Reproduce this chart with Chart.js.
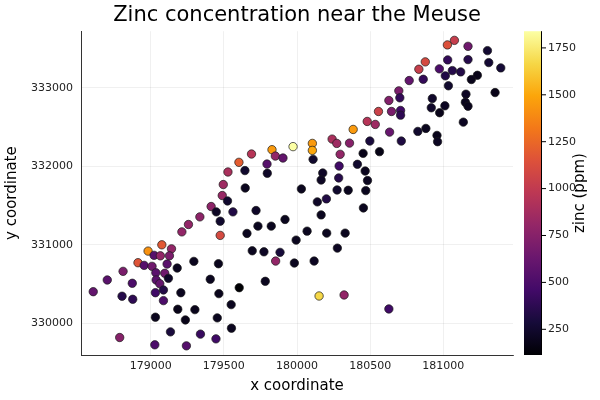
<!DOCTYPE html>
<html>
<head>
<meta charset="utf-8">
<title>Zinc concentration near the Meuse</title>
<script src="https://cdn.jsdelivr.net/npm/chart.js@4.4.1/dist/chart.umd.min.js"></script>
<style>
  body { margin: 0; background: #fff; }
</style>
</head>
<body>
<canvas id="zincChart" width="600" height="400"></canvas>
<script>
// sample locations and zinc in ppm
const xCoord = [
  179213, 179475, 179076, 179142, 178982, 179023, 179066, 179128, 178913, 178955,
  179009, 179112, 179295, 179463, 178811, 179035, 179096, 179181, 178703, 178874,
  179037, 179062, 179121, 179407, 178607, 178804, 178877, 179032, 179087, 179206,
  179466, 179605, 179087, 179550, 179185, 179302, 179032, 179237, 179455, 179552,
  178788, 179135, 179340, 179446, 179028, 179244,
  179658, 180069, 180203, 180329, 179994, 180276, 179694, 179774, 179884, 179854,
  179982, 180117, 179783, 180151, 180322, 180628,
  179973, 179829, 179852, 179904, 179689, 179603, 179795, 179528, 179644, 179797,
  179496, 179646, 180030, 179489, 179525, 179413, 179448, 179562, 179720, 179336,
  179258, 179475, 179918, 179733, 179824,
  180105, 180105, 180110, 180240, 180272, 180359, 180384, 180295, 180480, 180535,
  180557, 180646, 180708, 180708, 180633, 180826, 180498, 180713, 180564, 180452,
  180288, 180413, 180176, 180466, 180165, 180285, 180482, 180274, 180350, 180470,
  180139, 180201, 180454, 180165,
  181076, 181028, 181169, 181302, 181311, 181393, 181169, 181030, 180877, 180833,
  180973, 181062, 181119, 181014, 181233, 181192, 180767, 180863, 181035, 181354,
  181155, 180696, 180703, 180628, 180925, 180918, 181011, 180975, 181151, 181169,
  181137, 180881, 180957, 180961
];
const yCoord = [
  331166, 331121, 331001, 330950, 330921, 330867, 330861, 330861, 330773, 330739,
  330727, 330756, 330790, 330760, 330663, 330645, 330638, 330705, 330553, 330511,
  330553, 330506, 330574, 330562, 330404, 330346, 330307, 330391, 330426, 330391,
  330379, 330455, 330290, 330239, 330180, 330175, 330079, 330044, 330070, 329939,
  329820, 329892, 329863, 329803, 329727, 329714,
  331146, 331175, 331150, 331150, 331061, 330959, 330925, 330912, 330905, 330794,
  330769, 330794, 330536, 330349, 330362, 330184,
  332252, 332213, 332132, 332107, 332158, 332052, 332030, 331929, 331947, 331912,
  331769, 331725, 331713, 331629, 331560, 331489, 331421, 331421, 331438, 331357,
  331260, 331302, 331324, 331239, 331239,
  332293, 332204, 332090, 332348, 332293, 332297, 332471, 332154, 332573, 332535,
  332700, 332700, 332713, 332653, 332437, 332446, 332323, 332323, 332188, 332166,
  332005, 332027, 331916, 331941, 331827, 331853, 331820, 331700, 331696, 331692,
  331548, 331586, 331471, 331382,
  333606, 333548, 333530, 333475, 333323, 333255, 333361, 333357, 333332, 333238,
  333243, 333221, 333204, 333154, 333161, 333107, 333094, 333110, 333027, 332941,
  332920, 332963, 332874, 332840, 332865, 332747, 332772, 332684, 332818, 332767,
  332564, 332484, 332395, 332315
];
const zinc = [
  800, 1100, 1180, 800, 1420, 550, 800, 700, 1160, 550,
  650, 560, 200, 190, 700, 560, 650, 200, 560, 500,
  560, 600, 230, 200, 600, 350, 380, 450, 340, 200,
  190, 113, 500, 200, 180, 190, 200, 180, 200, 200,
  750, 300, 420, 450, 500, 540,
  200, 200, 200, 200, 200, 210, 200, 220, 290, 800,
  200, 210, 200, 1670, 800, 450,
  1839, 1450, 800, 600, 950, 1200, 550, 900, 250, 230,
  850, 200, 200, 820, 250, 780, 220, 330, 230, 780,
  800, 250, 200, 200, 200,
  1450, 1500, 250, 900, 850, 750, 1450, 800, 950, 850,
  1050, 700, 450, 380, 620, 250, 300, 320, 170, 180,
  450, 250, 230, 200, 220, 350, 200, 250, 200, 200,
  230, 330, 200, 200,
  1022, 1140, 650, 260, 270, 280, 350, 400, 1100, 1030,
  500, 350, 340, 330, 183, 189, 600, 400, 250, 180,
  220, 700, 400, 730, 240, 240, 210, 180, 200, 195,
  210, 200, 190, 210
];

const xTicks = [179000, 179500, 180000, 180500, 181000];
const yTicks = [330000, 331000, 332000, 333000];
const zincTicks = [250, 500, 750, 1000, 1250, 1500, 1750];

// inferno colour map, 11 stops
const inferno = ['#000004', '#160b39', '#420a68', '#6a176e', '#932667', '#bc3754',
                 '#dd513a', '#f37819', '#fca50a', '#f6d746', '#fcffa4'];

function hexToRgb(h) {
  return [parseInt(h.slice(1, 3), 16), parseInt(h.slice(3, 5), 16), parseInt(h.slice(5, 7), 16)];
}

function infernoColor(t) {
  t = Math.min(1, Math.max(0, t));
  const pos = t * (inferno.length - 1);
  const i = Math.min(inferno.length - 2, Math.floor(pos));
  const f = pos - i;
  const a = hexToRgb(inferno[i]), b = hexToRgb(inferno[i + 1]);
  const c = a.map((v, k) => Math.round(v + (b[k] - v) * f));
  return `rgb(${c[0]},${c[1]},${c[2]})`;
}

const zMin = Math.min(...zinc);
const zMax = Math.max(...zinc);

function widen(arr) {
  const lo = Math.min(...arr), hi = Math.max(...arr);
  const pad = (hi - lo) * 0.03;
  return [lo - pad, hi + pad];
}
const [xMin, xMax] = widen(xCoord);
const [yMin, yMax] = widen(yCoord);

const points = xCoord.map((x, i) => ({ x: x, y: yCoord[i] }));
const pointColors = zinc.map(z => infernoColor((z - zMin) / (zMax - zMin)));

const FONT = 'DejaVu Sans';

// colour bar on the right
const colorbar = {
  id: 'colorbar',
  afterDraw(chart) {
    const { ctx, chartArea } = chart;
    const left = chartArea.right + 11;
    const right = left + 17;
    const top = chartArea.top, bottom = chartArea.bottom;

    const grad = ctx.createLinearGradient(0, bottom, 0, top);
    inferno.forEach((c, i) => grad.addColorStop(i / (inferno.length - 1), c));
    ctx.save();
    ctx.fillStyle = grad;
    ctx.fillRect(left, top, right - left, bottom - top);

    ctx.strokeStyle = '#000';
    ctx.lineWidth = 1;
    ctx.beginPath();
    ctx.moveTo(right + 0.5, top);
    ctx.lineTo(right + 0.5, bottom);
    ctx.stroke();

    ctx.font = `11px "${FONT}"`;
    ctx.fillStyle = '#222';
    ctx.textAlign = 'left';
    ctx.textBaseline = 'middle';
    zincTicks.forEach(v => {
      const y = bottom - (v - zMin) / (zMax - zMin) * (bottom - top);
      ctx.beginPath();
      ctx.moveTo(right, y);
      ctx.lineTo(right + 5, y);
      ctx.stroke();
      ctx.fillText(String(v), right + 7, y);
    });

    ctx.translate(580, (top + bottom) / 2);
    ctx.rotate(-Math.PI / 2);
    ctx.font = `15px "${FONT}"`;
    ctx.textAlign = 'center';
    ctx.textBaseline = 'middle';
    ctx.fillStyle = '#000';
    ctx.fillText('zinc (ppm)', 0, 0);
    ctx.restore();
  }
};

const ctx = document.getElementById('zincChart').getContext('2d');

const config = {
  type: 'scatter',
  data: {
    datasets: [{
      label: 'zinc',
      data: points,
      pointBackgroundColor: pointColors,
      pointBorderColor: '#1a1a1a',
      pointBorderWidth: 0.7,
      pointRadius: 4.2,
      pointHoverRadius: 4.2
    }]
  },
  options: {
    responsive: false,
    animation: false,
    devicePixelRatio: 1,
    layout: { padding: { left: 0, right: 87, top: 0, bottom: 0 } },
    plugins: {
      legend: { display: false },
      tooltip: { enabled: false },
      title: {
        display: true,
        fullSize: false,
        text: 'Zinc concentration near the Meuse',
        color: '#000',
        font: { family: FONT, size: 21, weight: 'normal' },
        padding: { top: 3, bottom: 3 }
      }
    },
    scales: {
      x: {
        type: 'linear',
        min: xMin,
        max: xMax,
        afterBuildTicks: scale => { scale.ticks = xTicks.map(v => ({ value: v })); },
        afterFit: scale => { scale.height = 45; },
        ticks: {
          color: '#222',
          font: { family: FONT, size: 11 },
          padding: 5,
          callback: v => String(v)
        },
        grid: { color: 'rgba(0,0,0,0.1)', lineWidth: 0.6, drawTicks: false },
        border: { color: '#333', width: 1 },
        title: {
          display: true,
          text: 'x coordinate',
          color: '#000',
          font: { family: FONT, size: 15 },
          padding: { top: 5, bottom: 5 }
        }
      },
      y: {
        type: 'linear',
        min: yMin,
        max: yMax,
        afterBuildTicks: scale => { scale.ticks = yTicks.map(v => ({ value: v })); },
        afterFit: scale => { scale.width = 81; },
        ticks: {
          color: '#222',
          font: { family: FONT, size: 11 },
          padding: 8,
          callback: v => String(v)
        },
        grid: { color: 'rgba(0,0,0,0.1)', lineWidth: 0.6, drawTicks: false },
        border: { color: '#333', width: 1 },
        title: {
          display: true,
          text: 'y coordinate',
          color: '#000',
          font: { family: FONT, size: 15 },
          padding: { top: 3, bottom: 0 }
        }
      }
    }
  },
  plugins: [colorbar]
};

const zincChart = new Chart(ctx, config);
</script>
</body>
</html>
